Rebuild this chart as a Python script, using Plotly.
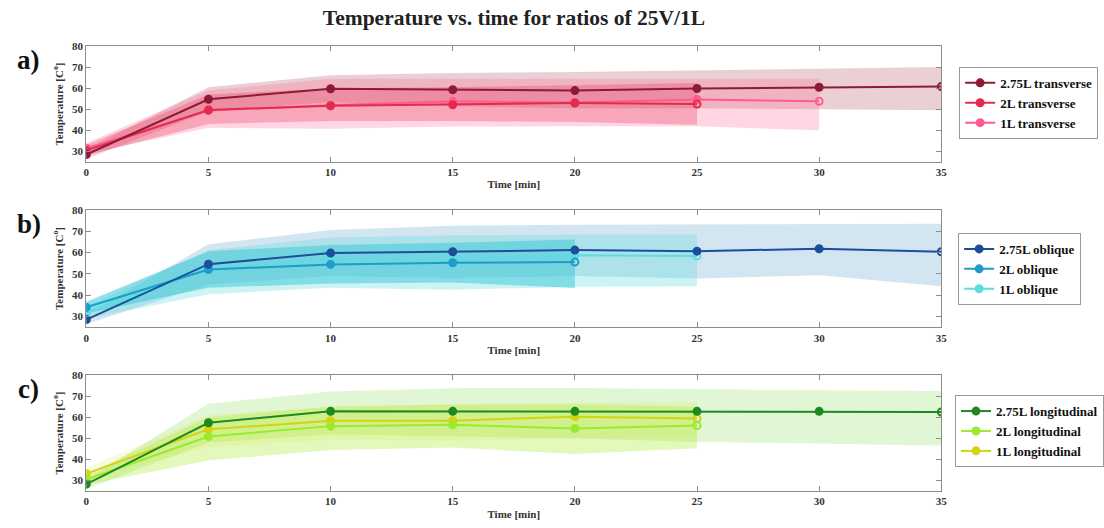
import plotly.graph_objects as go

# ---------------- data ----------------
t_all = [0, 5, 10, 15, 20, 25, 30, 35]

# panel a: transverse
a_275_mean = [28.5, 54.8, 59.8, 59.3, 58.9, 59.9, 60.5, 60.8]
a_275_up   = [31.0, 60.5, 66.2, 67.3, 67.7, 68.5, 69.3, 70.1]
a_275_lo   = [26.5, 49.0, 53.5, 51.5, 50.5, 50.5, 50.0, 49.6]
a_2_mean = [30.5, 49.7, 51.7, 52.2, 53.0, 52.5]
a_2_up   = [33.0, 57.0, 60.0, 60.5, 61.5, 62.5]
a_2_lo   = [28.0, 43.0, 44.5, 44.5, 44.0, 42.7]
a_1_mean = [31.5, 49.5, 52.0, 53.8, 53.2, 54.7, 53.8]
a_1_up   = [34.0, 59.0, 64.5, 64.5, 64.5, 64.6, 64.6]
a_1_lo   = [29.0, 41.2, 40.8, 41.8, 42.0, 42.0, 40.0]

# panel b: oblique
b_275_mean = [28.6, 54.5, 59.7, 60.3, 61.1, 60.6, 61.7, 60.3]
b_275_up   = [31.0, 63.8, 70.5, 72.5, 73.0, 73.2, 73.3, 73.4]
b_275_lo   = [26.5, 45.0, 49.0, 48.0, 49.0, 47.8, 49.3, 44.2]
b_2_mean = [34.4, 52.0, 54.4, 55.2, 55.5]
b_2_up   = [37.0, 60.5, 63.5, 64.5, 66.0]
b_2_lo   = [31.5, 43.5, 45.5, 46.0, 43.4]
b_1_mean = [32.0, 52.5, 57.0, 56.5, 58.7, 58.3]
b_1_up   = [35.0, 61.0, 67.0, 68.0, 68.4, 68.4]
b_1_lo   = [29.0, 40.5, 43.5, 42.5, 44.0, 44.2]

# panel c: longitudinal
c_275_mean = [28.3, 57.4, 62.8, 62.8, 62.8, 62.8, 62.8, 62.5]
c_275_up   = [30.5, 66.4, 72.2, 73.8, 73.9, 73.2, 72.8, 72.5]
c_275_lo   = [26.0, 48.0, 52.0, 51.0, 50.0, 48.3, 47.6, 46.5]
c_2_mean = [30.5, 50.9, 55.8, 56.4, 54.7, 56.1]
c_2_up   = [33.0, 60.0, 65.0, 66.0, 66.0, 65.0]
c_2_lo   = [28.0, 39.5, 44.5, 45.7, 42.6, 45.3]
c_1_mean = [33.3, 54.3, 58.3, 58.4, 60.3, 59.4]
c_1_up   = [36.0, 61.0, 65.0, 66.0, 67.0, 67.0]
c_1_lo   = [30.5, 46.0, 49.5, 49.0, 50.0, 50.0]

y_ticks = [30, 40, 50, 60, 70, 80]
x_ticks = [0, 5, 10, 15, 20, 25, 30, 35]

panels = [
    dict(letter="a)", kind="transverse", series=[
        ("2.75L", a_275_mean, a_275_up, a_275_lo, "#8E1B34", "rgba(160,40,64,0.22)"),
        ("2L", a_2_mean, a_2_up, a_2_lo, "#E22B4D", "rgba(226,43,77,0.30)"),
        ("1L", a_1_mean, a_1_up, a_1_lo, "#FF5C8D", "rgba(255,92,141,0.25)"),
    ]),
    dict(letter="b)", kind="oblique", series=[
        ("2.75L", b_275_mean, b_275_up, b_275_lo, "#1A4F9C", "rgba(70,145,195,0.24)"),
        ("2L", b_2_mean, b_2_up, b_2_lo, "#1E9DCB", "rgba(20,185,205,0.45)"),
        ("1L", b_1_mean, b_1_up, b_1_lo, "#5DDDE0", "rgba(90,220,220,0.30)"),
    ]),
    dict(letter="c)", kind="longitudinal", series=[
        ("2.75L", c_275_mean, c_275_up, c_275_lo, "#1F8A1F", "rgba(140,220,90,0.26)"),
        ("2L", c_2_mean, c_2_up, c_2_lo, "#9BEA2E", "rgba(175,235,60,0.35)"),
        ("1L", c_1_mean, c_1_up, c_1_lo, "#D2D410", "rgba(210,225,40,0.15)"),
    ]),
]

W, H = 1104, 528
x_dom = [84 / W, 946 / W]
y_px = [(40.7, 157.7), (206, 325), (373.3, 490.7)]
legend_px = [(964, 98), (963, 266), (960, 430)]
letter_py = [55, 221, 387]

FONT = "Liberation Serif"
TXT = "#333333"
AX = "#8c8c8c"

fig = go.Figure()
layout = dict(
    width=W, height=H, margin=dict(l=0, r=0, t=0, b=0),
    paper_bgcolor="white", plot_bgcolor="white",
    title=dict(text="Temperature vs. time for ratios of 25V/1L",
               x=514 / W, xanchor="center", y=1 - 17 / H, yanchor="middle",
               font=dict(family=FONT, size=21.5, color="#222222", weight="bold")),
    annotations=[],
)

for i, p in enumerate(panels):
    n = "" if i == 0 else str(i + 1)
    xa, ya = "x" + n, "y" + n
    leg = "legend" + n
    # bands
    for name, mean, up, lo, col, fcol in p["series"]:
        t = t_all[:len(mean)]
        fig.add_trace(go.Scatter(
            x=t + t[::-1], y=up + lo[::-1], fill="toself", fillcolor=fcol,
            line=dict(width=0), mode="lines", hoverinfo="skip",
            showlegend=False, xaxis=xa, yaxis=ya))
    # lines
    for name, mean, up, lo, col, fcol in reversed(p["series"]):
        t = t_all[:len(mean)]
        symbols = ["circle"] * (len(t) - 1) + ["circle-open"]
        fig.add_trace(go.Scatter(
            x=t, y=mean, mode="lines+markers",
            name=f"{name} {p['kind']}",
            line=dict(color=col, width=2),
            marker=dict(color=col, size=7, symbol=symbols, line=dict(color=col, width=2)),
            legend=leg, legendrank=["2.75L", "2L", "1L"].index(name) + 1,
            xaxis=xa, yaxis=ya))
    top, bot = y_px[i]
    axis_common = dict(showline=True, mirror="ticks", linecolor=AX, linewidth=1,
                       ticks="inside", ticklen=5, tickcolor=AX, showgrid=False,
                       zeroline=False,
                       tickfont=dict(family=FONT, size=11, color=TXT, weight="bold"))
    layout["xaxis" + n] = dict(domain=x_dom, anchor=ya, range=[0, 35],
                               tickvals=x_ticks,
                               title=dict(text="Time [min]", standoff=3,
                                          font=dict(family=FONT, size=11, color=TXT, weight="bold")),
                               **axis_common)
    layout["yaxis" + n] = dict(domain=[1 - bot / H, 1 - top / H], anchor=xa,
                               range=[25, 80], tickvals=y_ticks,
                               title=dict(text="Temperature [C<sup>o</sup>]", standoff=6,
                                          font=dict(family=FONT, size=11, color=TXT, weight="bold")),
                               **axis_common)
    lx, ly = legend_px[i]
    layout[leg] = dict(x=lx / W, y=1 - ly / H, xanchor="left", yanchor="middle",
                       bordercolor="#9a9a9a", borderwidth=1, bgcolor="white",
                       font=dict(family=FONT, size=13, color="#111111", weight="bold"),
                       traceorder="normal", itemwidth=30, tracegroupgap=0)
    layout["annotations"].append(dict(
        text=p["letter"], x=26 / W, y=1 - letter_py[i] / H, xref="paper", yref="paper",
        showarrow=False, xanchor="center", yanchor="middle",
        font=dict(family=FONT, size=27, color="#111111", weight="bold")))

fig.update_layout(**layout)
fig.write_html("out.html")
